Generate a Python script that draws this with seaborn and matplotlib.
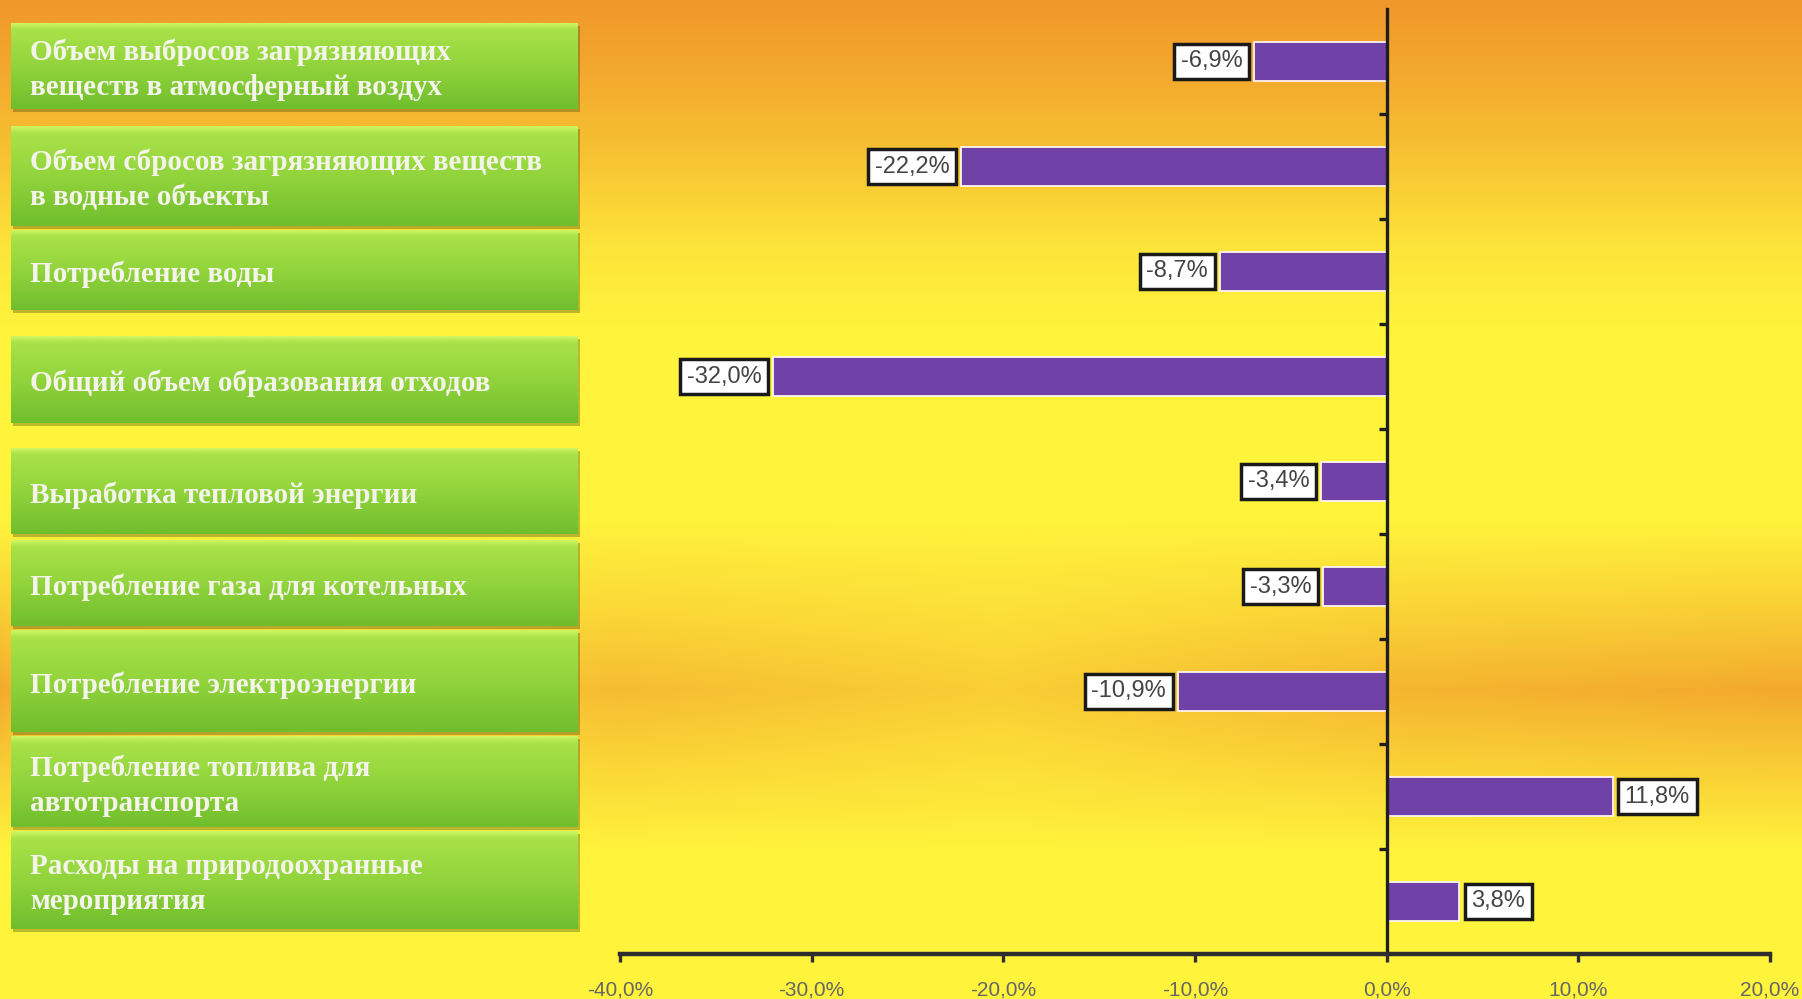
import numpy as np
import matplotlib
matplotlib.use('Agg')
import matplotlib.pyplot as plt
from matplotlib.patches import Rectangle
import seaborn as sns
import pandas as pd

# ---------------- data ----------------
categories = [
    "Объем выбросов загрязняющих\nвеществ в атмосферный воздух",
    "Объем сбросов загрязняющих веществ\nв водные объекты",
    "Потребление воды",
    "Общий объем образования отходов",
    "Выработка тепловой энергии",
    "Потребление газа для котельных",
    "Потребление электроэнергии",
    "Потребление топлива для\nавтотранспорта",
    "Расходы на природоохранные\nмероприятия",
]
values = [-6.9, -22.2, -8.7, -32.0, -3.4, -3.3, -10.9, 11.8, 3.8]
x_ticks = [-40, -30, -20, -10, 0, 10, 20]

def pct(v):
    return f"{v:.1f}%".replace('.', ',')

# ---------------- style ----------------
sns.set_theme(style='white')
plt.rcParams['font.family'] = ['Liberation Sans Narrow', 'Liberation Sans', 'DejaVu Sans']

W, H = 1802, 999
fig = plt.figure(figsize=(W / 100, H / 100), dpi=100)

# ---------------- background gradient ----------------
bg = fig.add_axes([0, 0, 1, 1], zorder=0)
yy = np.arange(H)[:, None].astype(float)
xx = np.arange(W)[None, :].astype(float)
top = np.interp(yy, [0, 60, 150, 250, 330], [1.0, 0.85, 0.55, 0.15, 0.0])
band_v = np.interp(yy, [520, 620, 690, 760, 850], [0.0, 0.45, 0.8, 0.45, 0.0])
band_h = np.interp(xx, [0, 40, 300, 620, 1000, 1400, 1770, 1802],
                   [1.0, 0.8, 0.5, 0.75, 0.5, 0.85, 1.0, 1.0])
w = np.clip(top + band_v * band_h, 0, 1)[..., None]
yellow = np.array([255, 243, 60]) / 255
orange = np.array([240, 152, 42]) / 255
img = yellow * (1 - w) + orange * w
bg.imshow(img, extent=(0, W, H, 0), aspect='auto', interpolation='bilinear')
bg.set_xlim(0, W)
bg.set_ylim(H, 0)
bg.axis('off')

# ---------------- left label panel ----------------
lax = fig.add_axes([0, 0, 1, 1], zorder=1)
lax.patch.set_alpha(0)
box_y = [(23, 109), (126, 226), (230, 310), (336, 423), (448, 534),
         (540, 626), (630, 732), (736, 827), (831, 929)]
bx0, bx1 = 11, 578
gstops = [0.0, 0.07, 0.5, 1.0]
gcols = np.array([(205, 245, 95), (168, 226, 72), (146, 212, 60), (112, 190, 45)]) / 255
gpos = np.linspace(0, 1, 64)
garr = np.stack([np.interp(gpos, gstops, gcols[:, k]) for k in range(3)], axis=-1)[:, None, :]
for (y0, y1), lab in zip(box_y, categories):
    lax.add_patch(Rectangle((bx0 + 2, y0 + 3), bx1 - bx0, y1 - y0,
                            facecolor=(0.25, 0.3, 0.05, 0.35), edgecolor='none', zorder=1))
    lax.imshow(garr, extent=(bx0, bx1, y1, y0), aspect='auto',
               interpolation='bilinear', zorder=2)
    lax.text(bx0 + 19, (y0 + y1) / 2 + 4, lab, color='#F4F4EA', fontsize=21,
             fontweight='bold', family=['Liberation Serif', 'DejaVu Serif'],
             va='center', ha='left', linespacing=1.4, zorder=3)
lax.set_xlim(0, W)
lax.set_ylim(H, 0)
lax.axis('off')

# ---------------- bar chart ----------------
ax = fig.add_axes([620 / W, 1 - 954 / H, (1770 - 620) / W, (954 - 9) / H], zorder=2)
ax.patch.set_alpha(0)
df = pd.DataFrame({'cat': categories, 'val': values})
sns.barplot(data=df, x='val', y='cat', orient='h', color='#7042A8', saturation=1,
            width=0.38, edgecolor='#FFF4F0', linewidth=1.3, ax=ax)

ax.set_xlim(-40, 20)
ax.set_ylim(8.5, -0.5)
ax.set_xticks(x_ticks)
ax.set_xticklabels([pct(t) for t in x_ticks])
ax.set_yticks([])
ax.set_yticks(np.arange(0.5, 8.5, 1), minor=True)
ax.set_xlabel('')
ax.set_ylabel('')
ax.grid(False)

for s in ['top', 'right']:
    ax.spines[s].set_visible(False)
ax.spines['left'].set_position(('data', 0))
ax.spines['left'].set_linewidth(2.4)
ax.spines['left'].set_color('#1E1E1E')
ax.spines['bottom'].set_linewidth(3.2)
ax.spines['bottom'].set_color('#2E2E2E')

ax.tick_params(axis='x', which='major', bottom=True, direction='out', length=6,
               width=2.4, color='#2E2E2E', labelsize=15, labelcolor='#666666', pad=13)
ax.tick_params(axis='y', which='minor', left=True, direction='out', length=6,
               width=2.4, color='#1E1E1E')

for i, v in enumerate(values):
    neg = v < 0
    ax.annotate(pct(v), xy=(v, i), xytext=(-8.5 if neg else 8.5, 0),
                textcoords='offset points', ha='right' if neg else 'left', va='center',
                fontsize=17, color='#444444',
                bbox=dict(boxstyle='square,pad=0.28', fc='white', ec='#1A1A1A', lw=2.5),
                zorder=5)

fig.savefig('out.png', dpi=100)
